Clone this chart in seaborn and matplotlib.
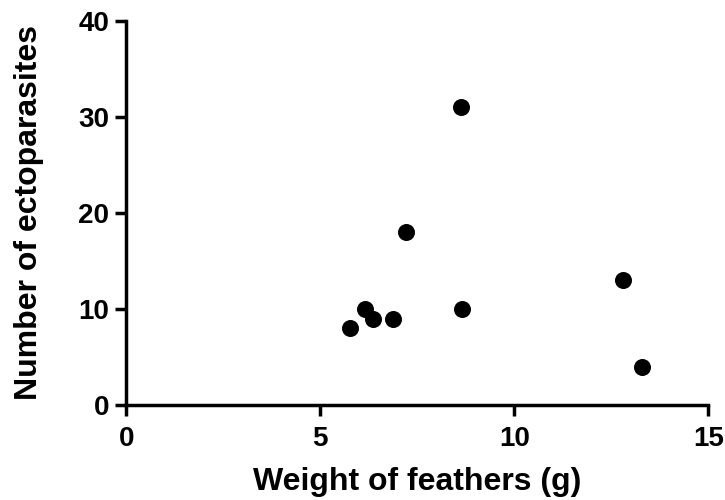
import numpy as np
import pandas as pd
import matplotlib
matplotlib.use('Agg')
import matplotlib.pyplot as plt
import seaborn as sns

# feather weight vs ectoparasite count
feather_weight = [5.78, 6.15, 6.35, 6.88, 7.22, 8.62, 8.65, 12.8, 13.3]
ectoparasites = [8, 10, 9, 9, 18, 31, 10, 13, 4]

df = pd.DataFrame({'weight': feather_weight, 'parasites': ectoparasites})

sns.set_style('ticks')
plt.rcParams['font.family'] = ['Liberation Sans', 'DejaVu Sans']
plt.rcParams['font.weight'] = 'bold'
plt.rcParams['text.color'] = 'black'
plt.rcParams['axes.labelcolor'] = 'black'
plt.rcParams['xtick.color'] = 'black'
plt.rcParams['ytick.color'] = 'black'

fig = plt.figure(figsize=(7.25, 5), dpi=100)
ax = fig.add_axes([0.174, 0.19, 0.803, 0.768])

sns.scatterplot(x='weight', y='parasites', data=df, ax=ax, color='black',
                s=150, edgecolor='black', linewidth=0, clip_on=False, zorder=3)

ax.set_xlim(0, 15)
ax.set_ylim(0, 40)
ax.set_xticks([0, 5, 10, 15])
ax.set_yticks([0, 10, 20, 30, 40])
ax.set_xlabel('Weight of feathers (g)', fontsize=23, fontweight='bold', labelpad=11)
ax.set_ylabel('Number of ectoparasites', fontsize=23, fontweight='bold', labelpad=25)
ax.tick_params(axis='both', labelsize=20, width=2.5, length=8, color='black')
ax.tick_params(axis='x', pad=7)
ax.tick_params(axis='y', pad=4)
for lab in ax.get_xticklabels() + ax.get_yticklabels():
    lab.set_fontweight('bold')

sns.despine(ax=ax)
for sp in ['left', 'bottom']:
    ax.spines[sp].set_linewidth(2.5)
    ax.spines[sp].set_color('black')

plt.savefig('out.png', dpi=100)
